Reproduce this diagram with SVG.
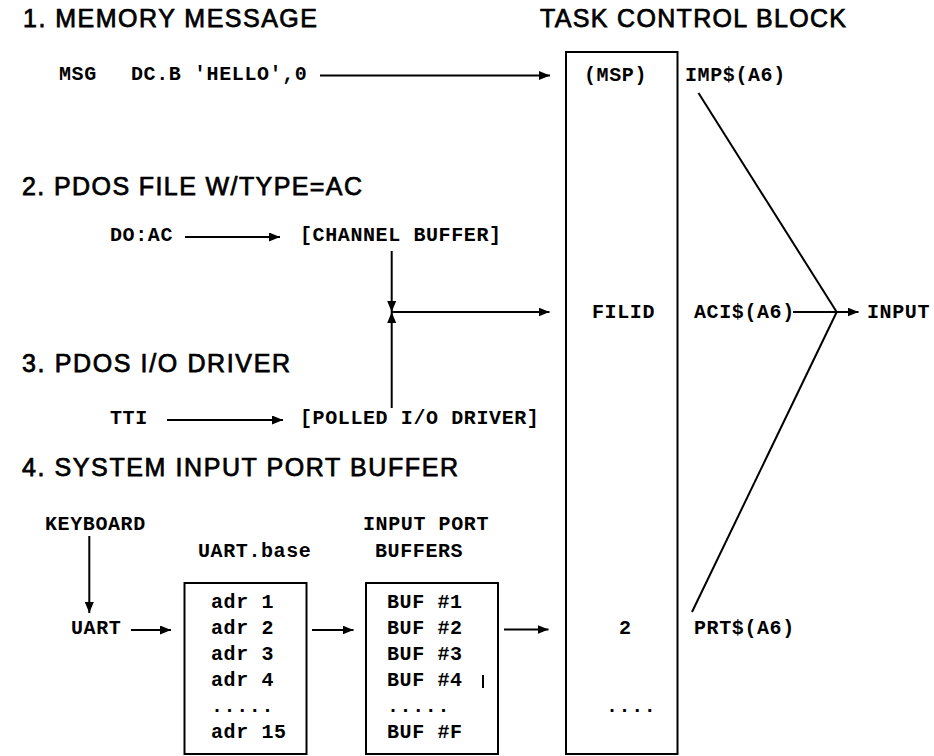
<svg xmlns="http://www.w3.org/2000/svg" width="934" height="756" viewBox="0 0 934 756">
<style>
.h{font-family:"Liberation Sans",Arial,Helvetica,sans-serif;font-size:25px;fill:#000;stroke:#000;stroke-width:0.75}
.m{font-family:"Liberation Mono","Courier New",monospace;font-size:20px;font-weight:bold;letter-spacing:0.6px;fill:#000}
.ln{stroke:#000;stroke-width:2;fill:none}
.box{stroke:#000;stroke-width:2;fill:none}
.ar{stroke:#000;stroke-width:2;fill:none;marker-end:url(#ah)}
</style>
<defs>
<marker id="ah" viewBox="0 0 11 9" refX="11" refY="4.5" markerWidth="11" markerHeight="9" markerUnits="userSpaceOnUse" orient="auto">
<path d="M0,0 L11,4.5 L0,9 z" fill="#000"/>
</marker>
</defs>
<rect width="934" height="756" fill="#fff"/>

<g id="headings">
<text class="h" x="23" y="27" textLength="294" lengthAdjust="spacing">1. MEMORY MESSAGE</text>
<text class="h" x="540" y="27" textLength="306" lengthAdjust="spacing">TASK CONTROL BLOCK</text>
<text class="h" x="22" y="195" textLength="340" lengthAdjust="spacing">2. PDOS FILE W/TYPE=AC</text>
<text class="h" x="22" y="372" textLength="268" lengthAdjust="spacing">3. PDOS I/O DRIVER</text>
<text class="h" x="22" y="476" textLength="436" lengthAdjust="spacing">4. SYSTEM INPUT PORT BUFFER</text>
</g>

<g id="msg">
<text class="m" x="59" y="80">MSG</text>
<text class="m" x="131" y="80">DC.B 'HELLO',0</text>
</g>

<g id="doac"><text class="m" x="110" y="241">DO:AC</text></g>
<g id="channel-buffer"><text class="m" x="300" y="241">[CHANNEL BUFFER]</text></g>
<g id="tti"><text class="m" x="110" y="424">TTI</text></g>
<g id="polled-driver"><text class="m" x="300" y="424">[POLLED I/O DRIVER]</text></g>

<g id="tcb">
<rect class="box" x="566" y="52" width="111.5" height="702"/>
<text class="m" x="584" y="81">(MSP)</text>
<text class="m" x="592" y="318">FILID</text>
<text class="m" x="619" y="634">2</text>
<text class="m" x="606" y="712">....</text>
</g>

<g id="imp"><text class="m" x="685" y="81">IMP$(A6)</text></g>
<g id="aci"><text class="m" x="694" y="318">ACI$(A6)</text></g>
<g id="prt"><text class="m" x="694" y="634">PRT$(A6)</text></g>
<g id="input"><text class="m" x="867" y="318">INPUT</text></g>

<g id="keyboard"><text class="m" x="45" y="530">KEYBOARD</text></g>
<g id="uart"><text class="m" x="71" y="634">UART</text></g>

<g id="uart-base">
<text class="m" x="198" y="557">UART.base</text>
<rect class="box" x="184.5" y="583" width="122" height="171"/>
<text class="m" x="211" y="608">adr 1</text>
<text class="m" x="211" y="634">adr 2</text>
<text class="m" x="211" y="660">adr 3</text>
<text class="m" x="211" y="686">adr 4</text>
<text class="m" x="211" y="712">.....</text>
<text class="m" x="211" y="738">adr 15</text>
</g>

<g id="input-port-buffers">
<text class="m" x="363" y="530">INPUT PORT</text>
<text class="m" x="375" y="557">BUFFERS</text>
<rect class="box" x="366" y="583" width="132" height="171"/>
<text class="m" x="387" y="608">BUF #1</text>
<text class="m" x="387" y="634">BUF #2</text>
<text class="m" x="387" y="660">BUF #3</text>
<text class="m" x="387" y="686">BUF #4</text>
<text class="m" x="387" y="712">.....</text>
<text class="m" x="387" y="738">BUF #F</text>
<line class="ln" x1="483" y1="675" x2="483" y2="688" stroke-width="1.5"/>
</g>

<g id="connectors">
<line class="ar" x1="320" y1="75.5" x2="550" y2="75.5"/>
<line class="ar" x1="185" y1="237" x2="280" y2="237"/>
<line class="ar" x1="167" y1="420" x2="283" y2="420"/>
<line class="ar" x1="391.7" y1="251" x2="391.7" y2="312"/>
<line class="ar" x1="391.7" y1="408" x2="391.7" y2="312"/>
<line class="ar" x1="391.7" y1="312" x2="549.5" y2="312"/>
<line class="ln" x1="698.5" y1="93" x2="836.7" y2="312"/>
<line class="ln" x1="836.7" y1="312" x2="692" y2="612"/>
<line class="ln" x1="793" y1="312" x2="836.7" y2="312"/>
<line class="ar" x1="836.7" y1="312" x2="858.5" y2="312"/>
<line class="ar" x1="89.3" y1="536" x2="89.3" y2="613"/>
<line class="ar" x1="131" y1="630" x2="171" y2="630"/>
<line class="ar" x1="312" y1="630" x2="353.5" y2="630"/>
<line class="ar" x1="504" y1="629.5" x2="548.5" y2="629.5"/>
</g>
</svg>
